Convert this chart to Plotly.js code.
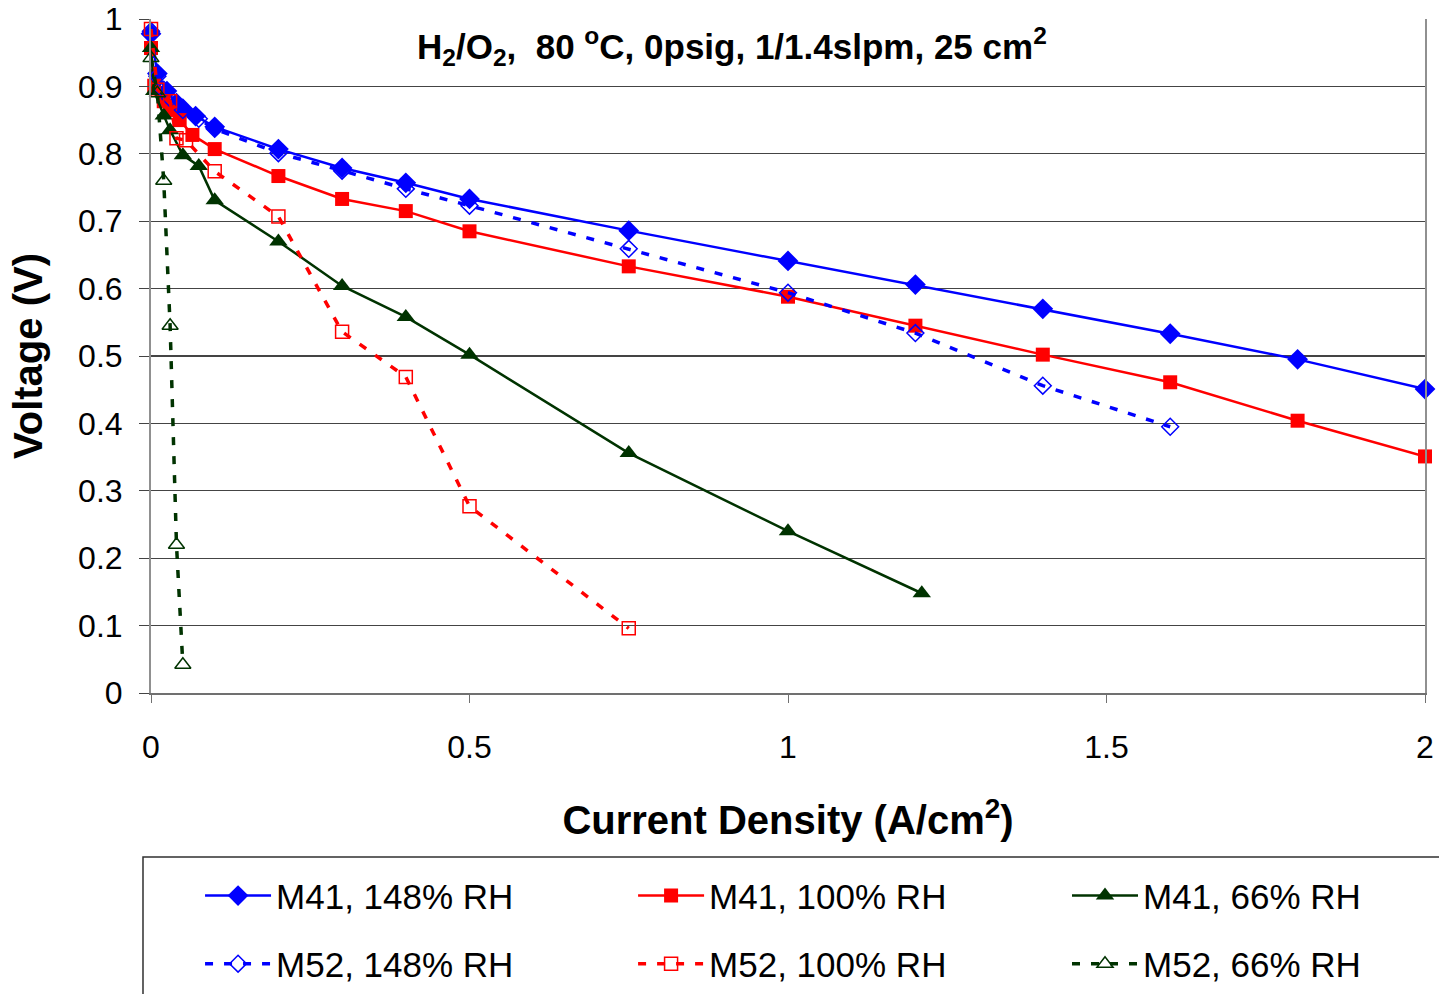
<!DOCTYPE html>
<html>
<head>
<meta charset="utf-8">
<script src="https://cdn.plot.ly/plotly-3.0.1.min.js"></script>
<style>html,body{margin:0;padding:0;background:#fff;}#chart{width:1439px;height:994px;}</style>
</head>
<body>
<div id="chart"></div>
<script>
// ---- data ----
const xTicks = [0, 0.5, 1, 1.5, 2];
const xTickLabels = ["0", "0.5", "1", "1.5", "2"];

const m41_148_x = [0, 0.01, 0.025, 0.04, 0.05, 0.07, 0.1, 0.2, 0.3, 0.4, 0.5, 0.75, 1.0, 1.2, 1.4, 1.6, 1.8, 2.0];
const m41_148_y = [0.978, 0.919, 0.893, 0.875, 0.867, 0.856, 0.840, 0.807, 0.779, 0.757, 0.733, 0.686, 0.641, 0.606, 0.570, 0.533, 0.495, 0.451];

const m41_100_x = [0, 0.005, 0.02, 0.03, 0.045, 0.065, 0.1, 0.2, 0.3, 0.4, 0.5, 0.75, 1.0, 1.2, 1.4, 1.6, 1.8, 2.0];
const m41_100_y = [0.957, 0.901, 0.878, 0.865, 0.850, 0.828, 0.807, 0.767, 0.733, 0.715, 0.685, 0.633, 0.588, 0.545, 0.502, 0.461, 0.404, 0.351];

const m41_66_x = [0, 0.005, 0.02, 0.03, 0.05, 0.075, 0.1, 0.2, 0.3, 0.4, 0.5, 0.75, 1.0, 1.21];
const m41_66_y = [0.957, 0.893, 0.857, 0.835, 0.798, 0.782, 0.731, 0.670, 0.604, 0.558, 0.502, 0.356, 0.240, 0.148];

const m52_148_x = [0, 0.01, 0.02, 0.03, 0.05, 0.075, 0.1, 0.2, 0.3, 0.4, 0.5, 0.75, 1.0, 1.2, 1.4, 1.6];
const m52_148_y = [0.982, 0.915, 0.895, 0.882, 0.865, 0.852, 0.837, 0.801, 0.775, 0.748, 0.723, 0.659, 0.594, 0.534, 0.456, 0.395];

const m52_100_x = [0, 0.01, 0.03, 0.04, 0.055, 0.1, 0.2, 0.3, 0.4, 0.5, 0.75];
const m52_100_y = [0.985, 0.895, 0.878, 0.823, 0.820, 0.774, 0.707, 0.536, 0.469, 0.277, 0.096];

const m52_66_x = [0, 0.01, 0.02, 0.03, 0.04, 0.05];
const m52_66_y = [0.942, 0.890, 0.760, 0.545, 0.220, 0.042];

const seriesNames = ["M41, 148% RH", "M41, 100% RH", "M41, 66% RH", "M52, 148% RH", "M52, 100% RH", "M52, 66% RH"];

// ---- styling ----
const BLUE = "#0000FF", RED = "#FF0000", GREEN = "#003300";
const FONT = "Liberation Sans, Arial, sans-serif";
const DASH = "8px,11px";

function solid(x, y, name, color, symbol, size, lg) {
  return {x: x, y: y, name: name, type: "scatter", mode: "lines+markers", cliponaxis: false,
    line: {color: color, width: 2.5}, marker: {color: color, symbol: symbol, size: size},
    legend: lg};
}
function dashed(x, y, name, color, symbol, size, lg) {
  return {x: x, y: y, name: name, type: "scatter", mode: "lines+markers", cliponaxis: false,
    line: {color: color, width: 3.5, dash: DASH},
    marker: {color: color, symbol: symbol, size: size, line: {color: color, width: 1.5}},
    legend: lg};
}

const data = [
  solid(m41_148_x, m41_148_y, seriesNames[0], BLUE, "diamond", 16, "legend"),
  solid(m41_100_x, m41_100_y, seriesNames[1], RED, "square", 14, "legend2"),
  solid(m41_66_x, m41_66_y, seriesNames[2], GREEN, "triangle-up", 16, "legend3"),
  dashed(m52_148_x, m52_148_y, seriesNames[3], BLUE, "diamond-open", 13, "legend4"),
  dashed(m52_100_x, m52_100_y, seriesNames[4], RED, "square-open", 13, "legend5"),
  dashed(m52_66_x, m52_66_y, seriesNames[5], GREEN, "triangle-up-open", 14, "legend6")
];

function lg(x, y) {
  return {
    x: x, y: y, orientation: "h", xanchor: "left", yanchor: "middle",
    itemwidth: 66,
    font: {family: FONT, size: 35, color: "#000"},
    bgcolor: "rgba(0,0,0,0)", borderwidth: 0
  };
}
const colX = [0.0385, 0.3784, 0.7190];
const rowY = [-0.301, -0.402];

const layout = {
  width: 1439, height: 994,
  margin: {l: 151, r: 14, t: 19, b: 301, pad: 0, autoexpand: false},
  paper_bgcolor: "#fff", plot_bgcolor: "#fff",
  font: {family: FONT, color: "#000"},
  showlegend: true,
  xaxis: {
    range: [0, 2], tickvals: xTicks, ticktext: xTickLabels,
    showgrid: false, zeroline: false,
    showline: true, linecolor: "#707070", linewidth: 2,
    ticks: "outside", ticklen: 8, tickcolor: "#707070",
    ticklabelstandoff: 17,
    tickfont: {family: FONT, size: 32, color: "#000"},
    title: {text: "<b>Current Density (A/cm<sup>2</sup>)</b>", font: {family: FONT, size: 40, color: "#000"}, standoff: 42},
    automargin: false
  },
  yaxis: {
    range: [0, 1], dtick: 0.1,
    showgrid: true, gridcolor: "#444444", gridwidth: 1.2,
    zeroline: false,
    showline: true, mirror: true, linecolor: "#909090", linewidth: 2,
    ticks: "outside", ticklen: 10, tickcolor: "#444444",
    ticklabelstandoff: 10,
    tickfont: {family: FONT, size: 32, color: "#000"},
    title: {text: "<b>Voltage (V)</b>", font: {family: FONT, size: 40, color: "#000"}, standoff: 23},
    automargin: false
  },
  legend: lg(colX[0], rowY[0]),
  legend2: lg(colX[1], rowY[0]),
  legend3: lg(colX[2], rowY[0]),
  legend4: lg(colX[0], rowY[1]),
  legend5: lg(colX[1], rowY[1]),
  legend6: lg(colX[2], rowY[1]),
  shapes: [{
    type: "rect", xref: "paper", yref: "paper",
    x0: -0.00628, x1: 1.2, y0: -0.8, y1: -0.2433,
    line: {color: "#303030", width: 1.5}, fillcolor: "rgba(0,0,0,0)"
  }],
  annotations: [{
    xref: "paper", yref: "paper", x: 0.456, y: 0.9585,
    xanchor: "center", yanchor: "middle", showarrow: false,
    text: "<b>H<sub>2</sub>/O<sub>2</sub>, &nbsp;80 <sup>o</sup>C, 0psig, 1/1.4slpm, 25 cm<sup>2</sup></b>",
    font: {family: FONT, size: 35, color: "#000"}
  }]
};

Plotly.newPlot("chart", data, layout, {displayModeBar: false, staticPlot: true});
</script>
</body>
</html>
